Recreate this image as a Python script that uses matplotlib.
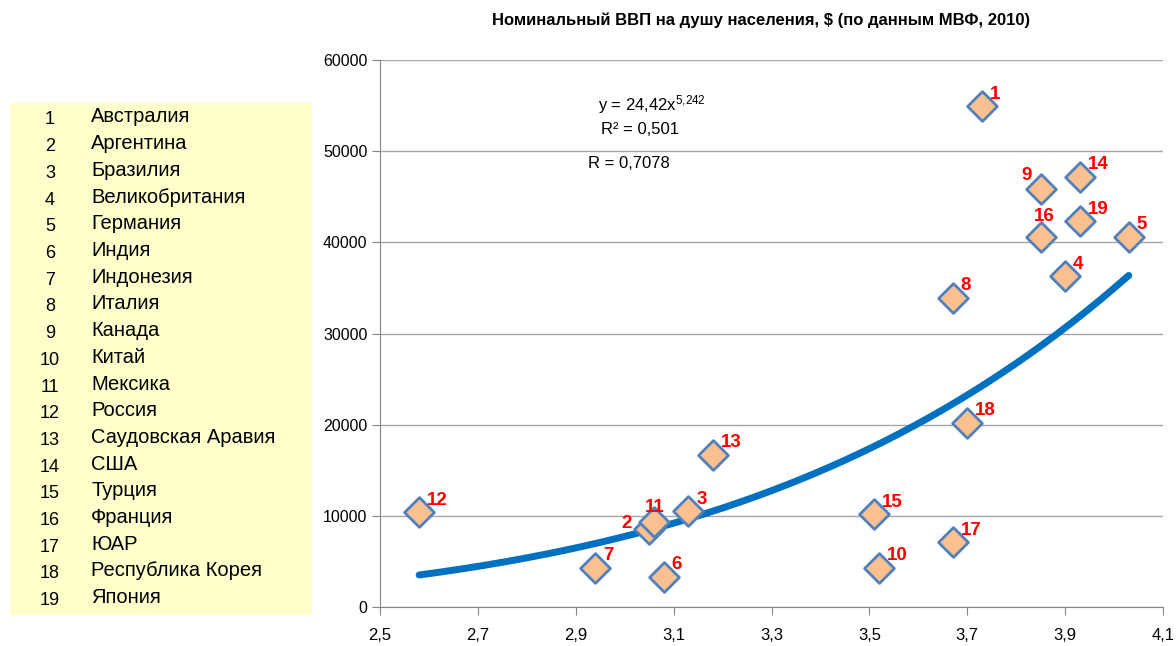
import matplotlib.pyplot as plt
import numpy as np
from matplotlib.patches import Rectangle

plt.rcParams['font.family'] = ['Liberation Sans', 'DejaVu Sans']
plt.rcParams['mathtext.default'] = 'regular'

# data
nums = list(range(1, 20))
countries = ['Австралия', 'Аргентина', 'Бразилия', 'Великобритания', 'Германия',
             'Индия', 'Индонезия', 'Италия', 'Канада', 'Китай', 'Мексика',
             'Россия', 'Саудовская Аравия', 'США', 'Турция', 'Франция', 'ЮАР',
             'Республика Корея', 'Япония']
xvals = [3.73, 3.05, 3.13, 3.90, 4.03, 3.08, 2.94, 3.67, 3.85, 3.52,
         3.06, 2.58, 3.18, 3.93, 3.51, 3.85, 3.67, 3.70, 3.93]
gdp = [54900, 8600, 10500, 36300, 40600, 3300, 4300, 33900, 45900, 4300,
       9300, 10400, 16700, 47200, 10200, 40600, 7100, 20200, 42300]
xtick_vals = [2.5, 2.7, 2.9, 3.1, 3.3, 3.5, 3.7, 3.9, 4.1]
xtick_labels = ['2,5', '2,7', '2,9', '3,1', '3,3', '3,5', '3,7', '3,9', '4,1']
coef_a = 24.42
coef_b = 5.242

# label offsets in pixels (dx, dy, ha)
offsets = {2: (-17, 5, 'right'), 9: (-9, 13, 'right'), 11: (1, 15, 'center'),
           16: (4, 20, 'center')}

fig = plt.figure(figsize=(11.76, 6.46), dpi=100)
ax = fig.add_axes([380/1176, 1-607/646, (1163-380)/1176, (607-60)/646])

grid_c = '#a6a6a6'
ax.set_xlim(2.5, 4.1)
ax.set_ylim(0, 60000)
ax.set_xticks(xtick_vals)
ax.set_xticklabels(xtick_labels)
ax.set_yticks(np.arange(0, 60001, 10000))
ax.set_yticklabels([str(int(t)) for t in np.arange(0, 60001, 10000)])
ax.yaxis.grid(True, color=grid_c, lw=1)
ax.set_axisbelow(True)
for s in ['top', 'right']:
    ax.spines[s].set_visible(False)
for s in ['left', 'bottom']:
    ax.spines[s].set_color('#868686')
ax.tick_params(axis='both', direction='out', length=6, color='#868686')
ax.tick_params(axis='x', pad=9, labelsize=12)
ax.tick_params(axis='y', pad=3, labelsize=11.5)

# trendline
xt = np.linspace(min(xvals), max(xvals), 200)
ax.plot(xt, coef_a * xt ** coef_b, color='#0070c0', lw=5, solid_capstyle='round', zorder=2)

ax.scatter(xvals, gdp, marker='D', s=230, facecolor='#fac090', edgecolor='#4f81bd',
           linewidths=2, zorder=3)

for n, x, y in zip(nums, xvals, gdp):
    dx, dy, ha = offsets.get(n, (8, 12, 'left'))
    ax.annotate(str(n), (x, y), xytext=(dx, dy), textcoords='offset pixels',
                ha=ha, va='center', color='red', fontweight='bold', fontsize=13.5,
                zorder=4)

ax.text(652/1176, 1-105/646, 'y = 24,42x$^{5{,}242}$', transform=fig.transFigure,
        ha='center', va='center', fontsize=12)
ax.text(640/1176, 1-130/646, 'R² = 0,501', transform=fig.transFigure,
        ha='center', va='center', fontsize=12)
ax.text(588/1176, 1-163/646, 'R = 0,7078', transform=fig.transFigure,
        ha='left', va='center', fontsize=12)

fig.text(761/1176, 1-20/646, 'Номинальный ВВП на душу населения, $ (по данным МВФ, 2010)',
         ha='center', va='center', fontsize=12, fontweight='bold')

# country list
fig.patches.append(Rectangle((10/1176, 1-615/646), 302/1176, 512/646,
                             transform=fig.transFigure, facecolor='#ffffcc',
                             edgecolor='none', zorder=0))
for i, (n, c) in enumerate(zip(nums, countries)):
    yy = 1 - (117 + i * 26.7) / 646
    fig.text(50/1176, yy - 3/646, str(n), ha='center', va='center', fontsize=13)
    fig.text(91/1176, yy, c, ha='left', va='center', fontsize=14.5)

fig.savefig('out.png', dpi=100)
